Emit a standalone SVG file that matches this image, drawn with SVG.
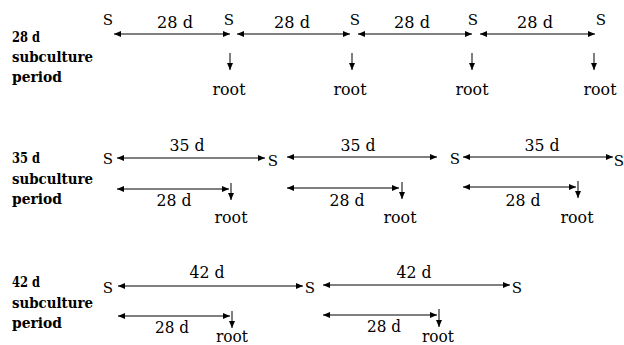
<svg xmlns="http://www.w3.org/2000/svg" width="624" height="345" viewBox="0 0 624 345">
<style>
text{font-family:"DejaVu Serif","Liberation Serif","Noto Serif",serif;fill:#000}
.lbl{font-weight:bold;font-size:14.5px}
.t{font-size:16.5px;text-anchor:middle}
.s{font-size:15px;text-anchor:middle}
.ln{stroke:#000;stroke-width:1;fill:none}
.dbl{marker-start:url(#ah);marker-end:url(#ah)}
.dn{marker-end:url(#ah)}
</style>
<defs>
<marker id="ah" markerUnits="userSpaceOnUse" markerWidth="8" markerHeight="6" refX="7" refY="3" orient="auto-start-reverse" viewBox="0 0 8 6">
<path d="M0,0 L7,3 L0,6 Z" fill="#000"/>
</marker>
</defs>
<rect width="624" height="345" fill="#fff"/>

<g id="row1-label">
<text class="lbl" x="12" y="42" textLength="28" lengthAdjust="spacingAndGlyphs">28 d</text>
<text class="lbl" x="12" y="62" textLength="81" lengthAdjust="spacingAndGlyphs">subculture</text>
<text class="lbl" x="12" y="82" textLength="50" lengthAdjust="spacingAndGlyphs">period</text>
</g>
<g id="row2-label">
<text class="lbl" x="12" y="163" textLength="28" lengthAdjust="spacingAndGlyphs">35 d</text>
<text class="lbl" x="12" y="184" textLength="81" lengthAdjust="spacingAndGlyphs">subculture</text>
<text class="lbl" x="12" y="204" textLength="50" lengthAdjust="spacingAndGlyphs">period</text>
</g>
<g id="row3-label">
<text class="lbl" x="12" y="287" textLength="28" lengthAdjust="spacingAndGlyphs">42 d</text>
<text class="lbl" x="12" y="308" textLength="81" lengthAdjust="spacingAndGlyphs">subculture</text>
<text class="lbl" x="12" y="328" textLength="50" lengthAdjust="spacingAndGlyphs">period</text>
</g>

<g id="row1-nodes">
<text class="s" x="108" y="25">S</text>
<text class="s" x="229" y="25">S</text>
<text class="s" x="355" y="25">S</text>
<text class="s" x="473" y="25">S</text>
<text class="s" x="601" y="25">S</text>
<text class="t" x="175" y="28" textLength="36" lengthAdjust="spacingAndGlyphs">28 d</text>
<text class="t" x="292" y="28" textLength="36" lengthAdjust="spacingAndGlyphs">28 d</text>
<text class="t" x="412" y="28" textLength="36" lengthAdjust="spacingAndGlyphs">28 d</text>
<text class="t" x="535" y="28" textLength="36" lengthAdjust="spacingAndGlyphs">28 d</text>
<text class="t" x="229" y="95" textLength="33" lengthAdjust="spacingAndGlyphs">root</text>
<text class="t" x="350" y="95" textLength="33" lengthAdjust="spacingAndGlyphs">root</text>
<text class="t" x="472" y="95" textLength="33" lengthAdjust="spacingAndGlyphs">root</text>
<text class="t" x="600" y="95" textLength="33" lengthAdjust="spacingAndGlyphs">root</text>
</g>

<g id="row2-nodes">
<text class="s" x="108" y="164">S</text>
<text class="s" x="273" y="166">S</text>
<text class="s" x="455" y="164">S</text>
<text class="s" x="619" y="166">S</text>
<text class="t" x="187" y="151" textLength="35" lengthAdjust="spacingAndGlyphs">35 d</text>
<text class="t" x="358" y="151" textLength="35" lengthAdjust="spacingAndGlyphs">35 d</text>
<text class="t" x="542" y="151" textLength="35" lengthAdjust="spacingAndGlyphs">35 d</text>
<text class="t" x="174" y="206" textLength="35" lengthAdjust="spacingAndGlyphs">28 d</text>
<text class="t" x="347" y="206" textLength="35" lengthAdjust="spacingAndGlyphs">28 d</text>
<text class="t" x="523" y="206" textLength="35" lengthAdjust="spacingAndGlyphs">28 d</text>
<text class="t" x="231" y="223" textLength="33" lengthAdjust="spacingAndGlyphs">root</text>
<text class="t" x="400" y="223" textLength="33" lengthAdjust="spacingAndGlyphs">root</text>
<text class="t" x="577" y="223" textLength="33" lengthAdjust="spacingAndGlyphs">root</text>
</g>

<g id="row3-nodes">
<text class="s" x="108" y="293">S</text>
<text class="s" x="310" y="293">S</text>
<text class="s" x="517" y="293">S</text>
<text class="t" x="207" y="278" textLength="35" lengthAdjust="spacingAndGlyphs">42 d</text>
<text class="t" x="414" y="278" textLength="35" lengthAdjust="spacingAndGlyphs">42 d</text>
<text class="t" x="172" y="333" textLength="34" lengthAdjust="spacingAndGlyphs">28 d</text>
<text class="t" x="384" y="332" textLength="34" lengthAdjust="spacingAndGlyphs">28 d</text>
<text class="t" x="232" y="342" textLength="32" lengthAdjust="spacingAndGlyphs">root</text>
<text class="t" x="438" y="342" textLength="32" lengthAdjust="spacingAndGlyphs">root</text>
</g>

<g id="connectors">
<line class="ln dbl" x1="114" y1="34" x2="230" y2="34"/>
<line class="ln dbl" x1="237" y1="34" x2="350" y2="34"/>
<line class="ln dbl" x1="358" y1="34" x2="472" y2="34"/>
<line class="ln dbl" x1="480" y1="34" x2="595" y2="34"/>
<line class="ln dn" x1="230" y1="53" x2="230" y2="70"/>
<line class="ln dn" x1="352" y1="53" x2="352" y2="70"/>
<line class="ln dn" x1="472" y1="53" x2="472" y2="70"/>
<line class="ln dn" x1="594" y1="53" x2="594" y2="70"/>

<line class="ln dbl" x1="117" y1="158" x2="265" y2="158"/>
<line class="ln dbl" x1="287" y1="157" x2="437" y2="157"/>
<line class="ln dbl" x1="463" y1="157" x2="613" y2="157"/>
<line class="ln dbl" x1="117" y1="189" x2="229" y2="189"/>
<line class="ln dbl" x1="287" y1="188" x2="399" y2="188"/>
<line class="ln dbl" x1="463" y1="187" x2="576" y2="187"/>
<line class="ln dn" x1="231" y1="183" x2="231" y2="200"/>
<line class="ln dn" x1="402" y1="182" x2="402" y2="199"/>
<line class="ln dn" x1="578" y1="181" x2="578" y2="198"/>

<line class="ln dbl" x1="118" y1="286" x2="303" y2="286"/>
<line class="ln dbl" x1="323" y1="285" x2="510" y2="285"/>
<line class="ln dbl" x1="118" y1="316" x2="230" y2="316"/>
<line class="ln dbl" x1="323" y1="315" x2="437" y2="315"/>
<line class="ln dn" x1="232" y1="311" x2="232" y2="328"/>
<line class="ln dn" x1="439" y1="309" x2="439" y2="327"/>
</g>
</svg>
